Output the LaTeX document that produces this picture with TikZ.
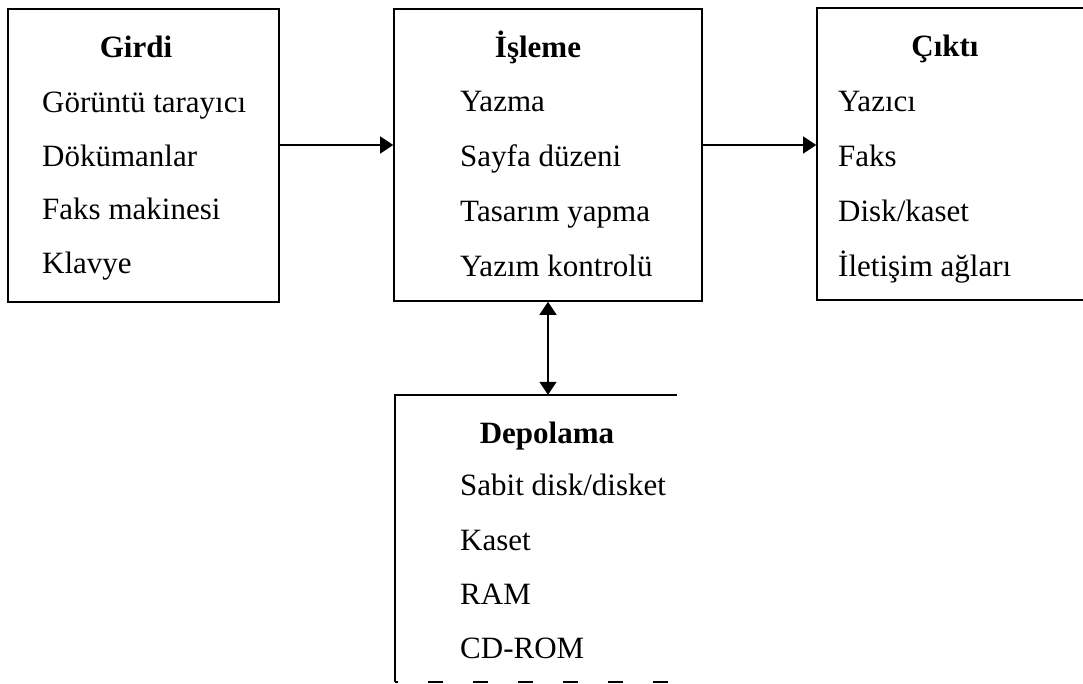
\documentclass[tikz,border=0pt]{standalone}
\usepackage{fontspec}
\setmainfont{Liberation Serif}
\usetikzlibrary{arrows.meta,fit}
\begin{document}
\begin{tikzpicture}[x=1pt,y=-1pt,
  panel/.style={draw=black, line width=1.6pt, inner sep=0pt},
  hidden/.style={draw=none, inner sep=0pt},
  title/.style={anchor=base, inner sep=0pt, font=\fontsize{31}{31}\selectfont\bfseries},
  entry/.style={anchor=base west, inner sep=0pt, font=\fontsize{31}{31}\selectfont},
  flow/.style={line width=1.3pt, -{Triangle[length=13pt,width=17pt]}},
  twoway/.style={line width=1.3pt, {Triangle[length=13pt,width=17pt]}-{Triangle[length=13pt,width=17pt]}}]

\useasboundingbox (0,0) rectangle (1083,684);

% boxes
\node[panel, fit={(8,9) (279,302)}] (girdi) {};
\node[panel, fit={(394,9) (702,301)}] (isleme) {};
\node[panel, fit={(817,8) (1100,300)}] (cikti) {};
\node[hidden, fit={(395,395) (677,682)}] (depo) {};
\draw[line width=1.6pt] (depo.north east) -- (depo.north west) -- (depo.south west);
\draw[line width=1.6pt, dash pattern=on 15pt off 30pt, dash phase=-33pt] (depo.south west) -- (depo.south east);

% Girdi
\node[title] (gt) at (136,58) {Girdi};
\node[entry] (g1) at (42,113) {Görüntü tarayıcı};
\node[entry] (g2) at (42,167) {Dökümanlar};
\node[entry] (g3) at (42,220) {Faks makinesi};
\node[entry] (g4) at (42,274) {Klavye};

% İşleme
\node[title] (it) at (538,58) {İşleme};
\node[entry] (i1) at (460,112) {Yazma};
\node[entry] (i2) at (460,167) {Sayfa düzeni};
\node[entry] (i3) at (460,222) {Tasarım yapma};
\node[entry] (i4) at (460,277) {Yazım kontrolü};

% Çıktı
\node[title] (ct) at (945,57) {Çıktı};
\node[entry] (c1) at (838,112) {Yazıcı};
\node[entry] (c2) at (838,167) {Faks};
\node[entry] (c3) at (838,222) {Disk/kaset};
\node[entry] (c4) at (838,277) {İletişim ağları};

% Depolama
\node[title] (dt) at (547,443) {Depolama};
\node[entry] (d1) at (460,495) {Sabit disk/disket};
\node[entry] (d2) at (460,550) {Kaset};
\node[entry] (d3) at (460,604) {RAM};
\node[entry] (d4) at (460,658) {CD-ROM};

% connectors
\coordinate (row) at (0,145);
\coordinate (col) at (548,0);
\draw[flow] (girdi.east |- row) -- (isleme.west |- row);
\draw[flow] (isleme.east |- row) -- (cikti.west |- row);
\draw[twoway] (isleme.south -| col) -- (depo.north -| col);
\end{tikzpicture}
\end{document}
